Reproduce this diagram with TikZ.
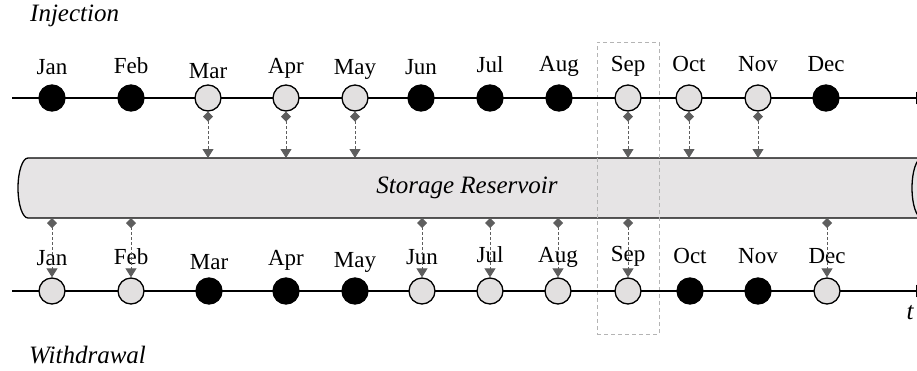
\documentclass[tikz,border=0pt]{standalone}
\usepackage{fontspec}
\setmainfont{Liberation Serif}
\usetikzlibrary{arrows.meta}
\definecolor{cfill}{HTML}{E2E0E0}
\definecolor{rfill}{HTML}{E6E4E5}
\definecolor{agray}{HTML}{5E5E5E}
\definecolor{bgray}{HTML}{B4B4B4}
\tikzset{
  mlabel/.style={font=\fontsize{23}{23}\selectfont, inner sep=0pt},
  ilabel/.style={font=\fontsize{25}{25}\selectfont\itshape, inner sep=0pt},
  full/.style={circle, draw=black, fill=black, line width=1.3pt, minimum size=26pt, inner sep=0pt},
  empty/.style={circle, draw=black, fill=cfill, line width=1.3pt, minimum size=26pt, inner sep=0pt},
  flow/.style={draw=agray, dashed, line width=0.9pt, dash pattern=on 3pt off 2pt,
     {Diamond[length=10pt,width=10pt,fill=agray]}-{Triangle[length=9pt,width=11pt,fill=agray]}},
  axis/.style={line width=1.3pt},
}
\begin{document}
\begin{tikzpicture}[x=1pt,y=-1pt]
\useasboundingbox (0,0) rectangle (917,370);
% reservoir
\fill[rfill] (28,158) -- (922,158) -- (922,218) -- (28,218) arc[start angle=90, end angle=270, x radius=10, y radius=30] -- cycle;
\draw[line width=1.3pt] (922,158) -- (28,158) arc[start angle=270, end angle=90, x radius=10, y radius=30] -- (922,218);
\draw[line width=1.3pt, fill=rfill] (922,188) ellipse[x radius=10, y radius=30];
\node[ilabel] (res) at (467,188) {Storage Reservoir};
% selected month frame
\node[draw=bgray, dashed, line width=0.9pt, dash pattern=on 4pt off 3pt, minimum width=62pt, minimum height=292pt, inner sep=0pt] (frame) at (628,188) {};
% axes
\coordinate (ts) at (12,98); \coordinate (te) at (928,98);
\coordinate (bs) at (12,291); \coordinate (be) at (928,291);
\draw[axis, -{Triangle[open,length=12pt,width=12pt,line width=1.1pt]}] (ts) -- (te);
\draw[axis, -{Triangle[open,length=12pt,width=12pt,line width=1.1pt]}] (bs) -- (be);
\node[ilabel] (tt) at (923,122) {t};
\node[ilabel] (bt) at (910,313) {t};
\node[ilabel, anchor=west] (inj) at (30,16) {Injection};
\node[ilabel, anchor=west] (wd) at (29,355) {Withdrawal};
% top (injection) row
\foreach \m/\x/\ly/\st in {Jan/52/67/full, Feb/131/66/full, Mar/208/71/empty, Apr/286/68/empty, May/355/69/empty, Jun/421/67/full, Jul/490/65/full, Aug/559/66/full, Sep/628/66/empty, Oct/689/64/empty, Nov/758/64/empty, Dec/826/64/full}{
  \node[\st] (t\m) at (\x,98) {};
  \node[mlabel] (tl\m) at (\x,\ly) {\m};
}
% bottom (withdrawal) row
\foreach \m/\x/\ly/\st in {Jan/52/258/empty, Feb/131/257/empty, Mar/209/262/full, Apr/286/260/full, May/355/262/full, Jun/422/257/empty, Jul/490/255/empty, Aug/558/257/empty, Sep/628/256/empty, Oct/690/256/full, Nov/758/256/full, Dec/827/256/empty}{
  \node[\st] (b\m) at (\x,291) {};
  \node[mlabel] (bl\m) at (\x,\ly) {\m};
}
% injection flows
\foreach \m/\x in {Mar/208, Apr/286, May/355, Sep/628, Oct/689, Nov/758}{
  \coordinate (rin\m) at (\x,158);
  \draw[flow] (t\m.south) -- (rin\m);
}
% withdrawal flows
\foreach \m/\x in {Jan/52, Feb/131, Jun/422, Jul/490, Aug/558, Sep/628, Dec/827}{
  \coordinate (rout\m) at (\x,218);
  \draw[flow] (rout\m) -- (b\m.north);
}
\end{tikzpicture}
\end{document}
